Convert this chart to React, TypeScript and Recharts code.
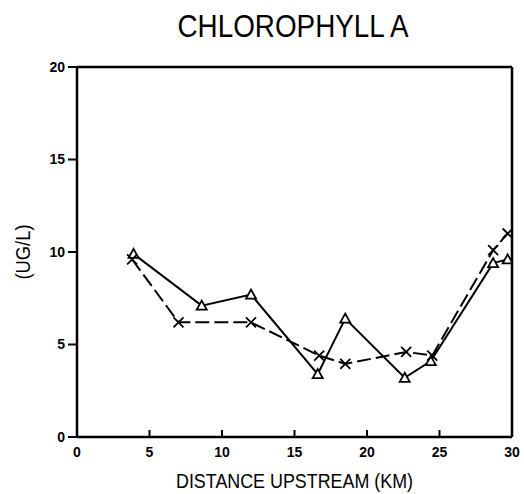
import React from "react";
import { LineChart, Line, XAxis, YAxis, ReferenceLine, Label } from "recharts";

const triDistance = [3.9, 8.6, 12.0, 16.6, 18.5, 22.6, 24.4, 28.7, 29.7];
const triValues = [9.9, 7.1, 7.7, 3.4, 6.4, 3.2, 4.1, 9.4, 9.6];
const crossDistance = [3.8, 7.0, 12.0, 16.7, 18.5, 22.7, 24.5, 28.7, 29.7];
const crossValues = [9.6, 6.2, 6.2, 4.4, 3.95, 4.6, 4.4, 10.1, 11.0];
const xTicks = [0, 5, 10, 15, 20, 25, 30];
const yTicks = [0, 5, 10, 15, 20];

const triData = triDistance.map((d, i) => ({ d, v: triValues[i] }));
const crossData = crossDistance.map((d, i) => ({ d, v: crossValues[i] }));

const FONT = "'Liberation Sans', Arial, sans-serif";

const TriDot = (props: any) => {
  const { cx, cy } = props;
  if (cx == null || cy == null) return null;
  const s = 5;
  return (
    <path
      d={`M${cx},${cy - s} L${cx + s},${cy + s * 0.8} L${cx - s},${cy + s * 0.8} Z`}
      fill="#fff"
      stroke="#000"
      strokeWidth={1.8}
    />
  );
};

const CrossDot = (props: any) => {
  const { cx, cy } = props;
  if (cx == null || cy == null) return null;
  const s = 5;
  return (
    <path
      d={`M${cx - s},${cy - s} L${cx + s},${cy + s} M${cx - s},${cy + s} L${cx + s},${cy - s}`}
      stroke="#000"
      strokeWidth={1.8}
    />
  );
};

const XTick = (props: any) => {
  const { x, y, payload } = props;
  return (
    <g>
      <line x1={x} y1={y} x2={x} y2={y - 7} stroke="#000" strokeWidth={2} />
      <text
        x={x}
        y={y + 20}
        textAnchor="middle"
        fontFamily={FONT}
        fontWeight="bold"
        fontSize={14}
        fill="#000"
      >
        {payload.value}
      </text>
    </g>
  );
};

const XLabel = (props: any) => {
  const vb = props.viewBox || {};
  const cx = vb.x + vb.width / 2;
  const by = vb.y + vb.height - 6;
  return (
    <text
      x={cx}
      y={by}
      textAnchor="middle"
      fontFamily={FONT}
      fontSize={20}
      textLength={237}
      lengthAdjust="spacingAndGlyphs"
      fill="#000"
    >
      DISTANCE UPSTREAM (KM)
    </text>
  );
};

const YLabel = (props: any) => {
  const vb = props.viewBox || {};
  const cx = vb.x - 7;
  const cy = vb.y + vb.height / 2 + 0;
  return (
    <text
      x={cx}
      y={cy}
      transform={`rotate(-90 ${cx} ${cy})`}
      textAnchor="middle"
      fontFamily={FONT}
      fontSize={20}
      textLength={55}
      lengthAdjust="spacingAndGlyphs"
      fill="#000"
    >
      (UG/L)
    </text>
  );
};

export default function App() {
  return (
    <div style={{ position: "absolute", left: 0, top: 0, width: 524, height: 494, background: "#fff" }}>
      <svg
        width={524}
        height={494}
        style={{ position: "absolute", left: 0, top: 0, pointerEvents: "none" }}
      >
        <text
          x={293}
          y={37}
          textAnchor="middle"
          fontFamily={FONT}
          fontSize={31}
          textLength={231}
          lengthAdjust="spacingAndGlyphs"
          fill="#000"
        >
          CHLOROPHYLL A
        </text>
      </svg>
      <div style={{ position: "absolute", left: 0, top: 0 }}>
        <LineChart
          width={524}
          height={494}
          margin={{ top: 67, right: 12, bottom: 0, left: 37 }}
        >
          <XAxis
            dataKey="d"
            type="number"
            domain={[0, 30]}
            ticks={xTicks}
            allowDataOverflow
            height={57}
            tickSize={0}
            tickMargin={0}
            tickLine={false}
            tick={<XTick />}
            axisLine={{ stroke: "#000", strokeWidth: 2.5 }}
          >
            <Label content={<XLabel />} />
          </XAxis>
          <YAxis
            dataKey="v"
            type="number"
            domain={[0, 20]}
            ticks={yTicks}
            width={40}
            tickSize={9}
            tickMargin={3}
            tickLine={{ stroke: "#000", strokeWidth: 2 }}
            axisLine={{ stroke: "#000", strokeWidth: 2.5 }}
            tick={{ fontFamily: FONT, fontWeight: "bold", fontSize: 14, fill: "#000" }}
          >
            <Label content={<YLabel />} />
          </YAxis>
          <ReferenceLine y={20} stroke="#000" strokeWidth={2.5} />
          <ReferenceLine x={30} stroke="#000" strokeWidth={2.5} />
          <Line
            data={triData}
            dataKey="v"
            type="linear"
            stroke="#000"
            strokeWidth={2}
            dot={<TriDot />}
            activeDot={false}
            isAnimationActive={false}
          />
          <Line
            data={crossData}
            dataKey="v"
            type="linear"
            stroke="#000"
            strokeWidth={2}
            strokeDasharray="14 5"
            dot={<CrossDot />}
            activeDot={false}
            isAnimationActive={false}
          />
        </LineChart>
      </div>
    </div>
  );
}
